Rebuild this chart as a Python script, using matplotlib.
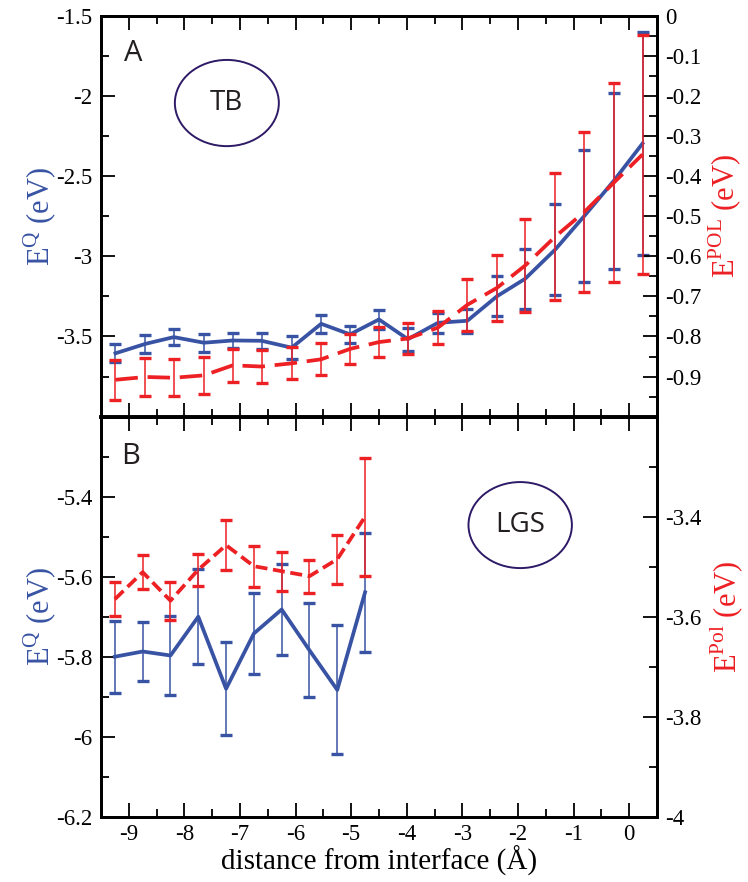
import matplotlib
matplotlib.use("Agg")
import matplotlib.pyplot as plt
from matplotlib.patches import Ellipse
from matplotlib.ticker import MultipleLocator, FormatStrFormatter

plt.rcParams['font.family'] = ['Liberation Serif', 'DejaVu Serif']
plt.rcParams['mathtext.fontset'] = 'custom'
plt.rcParams['mathtext.rm'] = 'Liberation Serif'
plt.rcParams['axes.unicode_minus'] = False

# ---- data: panel A (TB) ----
x_tb = [-9.24, -8.70, -8.19, -7.65, -7.13, -6.61, -6.07, -5.54, -5.02, -4.50,
        -3.98, -3.44, -2.91, -2.38, -1.87, -1.33, -0.81, -0.28, 0.24]
eq_tb = [-3.605, -3.546, -3.504, -3.539, -3.525, -3.527, -3.570, -3.421, -3.487, -3.394,
         -3.517, -3.415, -3.402, -3.250, -3.140, -2.958, -2.750, -2.531, -2.297]
eq_tb_err = [0.057, 0.056, 0.052, 0.055, 0.048, 0.050, 0.070, 0.056, 0.052, 0.062,
             0.071, 0.062, 0.075, 0.125, 0.187, 0.286, 0.411, 0.546, 0.693]
pol_tb = [-0.908, -0.901, -0.903, -0.897, -0.872, -0.875, -0.867, -0.857, -0.831, -0.814,
          -0.805, -0.778, -0.721, -0.679, -0.623, -0.551, -0.490, -0.417, -0.346]
pol_tb_err = [0.050, 0.047, 0.046, 0.046, 0.041, 0.042, 0.040, 0.040, 0.037, 0.037,
              0.039, 0.042, 0.065, 0.083, 0.115, 0.159, 0.200, 0.248, 0.299]

# ---- data: panel B (LGS) ----
x_lgs = [-9.25, -8.75, -8.25, -7.75, -7.25, -6.75, -6.25, -5.75, -5.25, -4.75]
eq_lgs = [-5.800, -5.787, -5.797, -5.700, -5.880, -5.742, -5.682, -5.784, -5.883, -5.639]
eq_lgs_err = [0.090, 0.074, 0.099, 0.118, 0.116, 0.102, 0.113, 0.117, 0.161, 0.149]
pol_lgs = [-3.565, -3.511, -3.568, -3.506, -3.457, -3.499, -3.509, -3.519, -3.485, -3.400]
pol_lgs_err = [0.034, 0.034, 0.038, 0.032, 0.050, 0.041, 0.039, 0.033, 0.049, 0.118]

blue = '#3953a4'
red = '#ed2024'
dark = '#231f20'

fig = plt.figure(figsize=(7.48, 8.82), dpi=100)
ax_a = fig.add_axes([0.135, 0.5276, 0.7433, 0.4546])
ax_b = fig.add_axes([0.135, 0.0740, 0.7433, 0.4536])
ax_a2 = ax_a.twinx()
ax_b2 = ax_b.twinx()

eb_kw = dict(fmt='none', elinewidth=1.1, capsize=4, capthick=2.4)

# panel A
ax_a.errorbar(x_tb, eq_tb, yerr=eq_tb_err, ecolor=blue, **eb_kw)
ax_a.plot(x_tb, eq_tb, color=blue, lw=2.7)
ax_a2.errorbar(x_tb, pol_tb, yerr=pol_tb_err, ecolor=red, **eb_kw)
ax_a2.plot(x_tb, pol_tb, color=red, lw=2.7, dashes=(6, 2.6))

# panel B
ax_b.errorbar(x_lgs, eq_lgs, yerr=eq_lgs_err, ecolor=blue, **eb_kw)
ax_b.plot(x_lgs, eq_lgs, color=blue, lw=2.7)
ax_b2.errorbar(x_lgs, pol_lgs, yerr=pol_lgs_err, ecolor=red, **eb_kw)
ax_b2.plot(x_lgs, pol_lgs, color=red, lw=2.7, dashes=(3.2, 1.5))

# limits and ticks
for ax in (ax_a, ax_b):
    ax.set_xlim(-9.5, 0.5)
    ax.xaxis.set_major_locator(MultipleLocator(1))
    ax.xaxis.set_minor_locator(MultipleLocator(0.5))

ax_a.set_ylim(-4, -1.5)
ax_a.set_yticks([-3.5, -3, -2.5, -2, -1.5])
ax_a.yaxis.set_minor_locator(MultipleLocator(0.25))
ax_a2.set_ylim(-1, 0)
ax_a2.set_yticks([-0.9, -0.8, -0.7, -0.6, -0.5, -0.4, -0.3, -0.2, -0.1, 0])
ax_a2.yaxis.set_minor_locator(MultipleLocator(0.05))

ax_b.set_ylim(-6.2, -5.2)
ax_b.set_yticks([-6.2, -6, -5.8, -5.6, -5.4])
ax_b.yaxis.set_minor_locator(MultipleLocator(0.1))
ax_b2.set_ylim(-4, -3.2)
ax_b2.set_yticks([-4, -3.8, -3.6, -3.4])
ax_b2.yaxis.set_minor_locator(MultipleLocator(0.1))

for ax in (ax_a, ax_a2, ax_b, ax_b2):
    ax.yaxis.set_major_formatter(FormatStrFormatter('%g'))
    ax.tick_params(which='major', direction='in', length=10, width=1.3, labelsize=16.5, pad=6)
    ax.tick_params(which='minor', direction='in', length=5.5, width=1.3)
    for s in ax.spines.values():
        s.set_linewidth(2)

for ax in (ax_a, ax_b):
    ax.tick_params(axis='x', which='both', top=True, bottom=True)
    ax.xaxis.set_major_formatter(FormatStrFormatter('%g'))
ax_a.tick_params(axis='x', labelbottom=False)
ax_a.spines['bottom'].set_linewidth(2.6)
ax_b.spines['top'].set_linewidth(2.6)

# axis labels
ax_a.set_ylabel(r'E$^{\mathrm{Q}}$ (eV)', color=blue, fontsize=22, labelpad=-2)
ax_b.set_ylabel(r'E$^{\mathrm{Q}}$ (eV)', color=blue, fontsize=22, labelpad=-2)
ax_a2.set_ylabel(r'E$^{\mathrm{POL}}$ (eV)', color=red, fontsize=22, labelpad=4)
ax_b2.set_ylabel(r'E$^{\mathrm{Pol}}$ (eV)', color=red, fontsize=22, labelpad=4)
ax_b.set_xlabel('distance from interface (Å)', fontsize=21, labelpad=1)
ax_b.tick_params(axis='x', pad=5)

# panel letters and ellipses
ax_a.text(0.058, 0.905, 'A', transform=ax_a.transAxes, family='Open Sans',
          fontsize=21, color=dark, ha='center', va='center')
ax_b.text(0.053, 0.9, 'B', transform=ax_b.transAxes, family='Open Sans',
          fontsize=21, color=dark, ha='center', va='center')

ax_a.add_patch(Ellipse((0.2264, 0.7822), 0.187, 0.215, transform=ax_a.transAxes,
                       fill=False, ec='#2e1a66', lw=1.4))
ax_a.text(0.2264, 0.7822, 'TB', transform=ax_a.transAxes, family='Open Sans',
          fontsize=20, color=dark, ha='center', va='center')
ax_b.add_patch(Ellipse((0.754, 0.729), 0.186, 0.215, transform=ax_b.transAxes,
                       fill=False, ec='#2e1a66', lw=1.4))
ax_b.text(0.754, 0.729, 'LGS', transform=ax_b.transAxes, family='Open Sans',
          fontsize=20, color=dark, ha='center', va='center')

fig.savefig('out.png', dpi=100)
